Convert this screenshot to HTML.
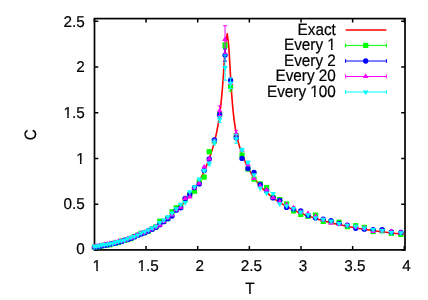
<!DOCTYPE html>
<html><head><meta charset="utf-8"><title>C vs T</title>
<style>
html,body{margin:0;padding:0;background:#fff;}
svg{display:block;}
svg{will-change:transform;transform:translateZ(0);}
text{text-rendering:geometricPrecision;font-kerning:none;font-family:"Liberation Sans",sans-serif;font-size:15.3px;fill:#000;stroke:#000;stroke-width:0.2px;}
</style></head>
<body>
<svg width="428" height="300" viewBox="0 0 428 300">
<rect width="428" height="300" fill="#fff"/>
<rect x="94.5" y="18.6" width="310.5" height="231.3" fill="none" stroke="#000" stroke-width="1.7"/><path d="M94.40,249.9 v-3.8 M94.40,18.6 v3.8 M146.05,249.9 v-3.8 M146.05,18.6 v3.8 M197.70,249.9 v-3.8 M197.70,18.6 v3.8 M249.35,249.9 v-3.8 M249.35,18.6 v3.8 M301.00,249.9 v-3.8 M301.00,18.6 v3.8 M352.65,249.9 v-3.8 M352.65,18.6 v3.8 M404.30,249.9 v-3.8 M404.30,18.6 v3.8 M94.5,250.00 h3.8 M405.0,250.00 h-3.8 M94.5,204.25 h3.8 M405.0,204.25 h-3.8 M94.5,158.50 h3.8 M405.0,158.50 h-3.8 M94.5,112.75 h3.8 M405.0,112.75 h-3.8 M94.5,67.00 h3.8 M405.0,67.00 h-3.8 M94.5,21.25 h3.8 M405.0,21.25 h-3.8" stroke="#000" stroke-width="1.5" fill="none"/>
<path d="M94.40,247.86 L96.47,247.58 L98.53,247.27 L100.60,246.94 L102.66,246.58 L104.73,246.19 L106.80,245.78 L108.86,245.34 L110.93,244.88 L112.99,244.38 L115.06,243.85 L117.13,243.30 L119.19,242.71 L121.26,242.09 L123.32,241.44 L125.39,240.76 L127.46,240.04 L129.52,239.29 L131.59,238.50 L133.65,237.68 L135.72,236.82 L137.79,235.93 L139.85,234.99 L141.92,234.02 L143.98,233.00 L146.05,231.95 L148.12,230.85 L150.18,229.71 L152.25,228.52 L154.31,227.28 L156.38,225.99 L158.45,224.66 L160.51,223.26 L162.58,221.82 L164.64,220.31 L166.71,218.74 L168.78,217.10 L170.84,215.40 L172.91,213.62 L174.97,211.76 L177.04,209.81 L179.11,207.78 L181.17,205.64 L183.24,203.40 L185.30,201.05 L187.37,198.56 L189.44,195.94 L191.50,193.16 L193.57,190.20 L195.63,187.05 L197.70,183.67 L198.73,181.89 L199.77,180.04 L200.80,178.12 L201.83,176.11 L202.86,174.02 L203.90,171.83 L204.93,169.54 L205.96,167.13 L207.00,164.59 L208.03,161.91 L209.07,159.07 L210.14,156.05 L211.22,152.83 L212.30,149.37 L213.39,145.64 L214.49,141.59 L215.57,137.15 L216.65,132.26 L217.72,126.78 L218.76,120.57 L218.76,120.57 L218.97,119.22 L219.17,117.83 L219.38,116.40 L219.59,114.92 L219.79,113.40 L220.00,111.82 L220.21,110.19 L220.41,108.49 L220.62,106.74 L220.83,104.92 L221.03,103.03 L221.24,101.06 L221.45,99.01 L221.65,96.89 L221.86,94.67 L222.07,92.36 L222.27,89.96 L222.48,87.46 L222.69,84.86 L222.89,82.16 L223.10,79.37 L223.31,76.47 L223.51,73.49 L223.72,70.44 L223.93,67.31 L224.13,64.14 L224.34,60.93 L224.55,57.73 L224.76,54.56 L224.98,51.45 L225.20,48.45 L225.43,45.61 L225.65,42.96 L227.26,33.74 L228.72,45.63 L228.93,48.71 L229.13,52.01 L229.34,55.46 L229.55,59.03 L229.75,62.66 L229.96,66.32 L230.17,69.97 L230.37,73.58 L230.58,77.12 L230.79,80.57 L230.99,83.92 L231.20,87.15 L231.41,90.26 L231.61,93.24 L231.82,96.09 L232.03,98.80 L232.23,101.39 L232.44,103.85 L232.65,106.19 L232.85,108.41 L233.06,110.53 L233.27,112.53 L233.47,114.44 L233.68,116.26 L233.89,117.99 L234.09,119.63 L234.30,121.20 L234.51,122.70 L234.71,124.13 L234.92,125.51 L235.12,126.82 L235.33,128.08 L235.54,129.30 L235.74,130.46 L235.95,131.59 L236.16,132.67 L236.36,133.72 L236.57,134.74 L236.78,135.72 L236.98,136.67 L237.19,137.59 L237.40,138.49 L237.60,139.36 L237.81,140.21 L238.02,141.04 L238.22,141.85 L238.43,142.64 L238.64,143.41 L238.84,144.16 L239.05,144.89 L239.26,145.61 L239.46,146.32 L239.67,147.01 L240.70,150.27 L241.74,153.26 L242.77,156.03 L243.80,158.60 L244.84,161.01 L245.86,163.27 L246.89,165.41 L247.91,167.42 L248.92,169.34 L249.93,171.15 L250.94,172.88 L251.94,174.54 L252.94,176.11 L253.94,177.62 L254.94,179.07 L255.93,180.46 L256.93,181.79 L257.92,183.08 L258.91,184.31 L259.91,185.51 L260.91,186.65 L261.90,187.76 L262.90,188.84 L263.91,189.87 L264.91,190.88 L265.92,191.85 L266.94,192.79 L267.96,193.70 L268.98,194.59 L270.01,195.45 L270.01,195.45 L272.08,197.10 L274.14,198.65 L276.21,200.13 L278.27,201.53 L280.34,202.86 L282.41,204.12 L284.47,205.33 L286.54,206.48 L288.60,207.58 L290.67,208.63 L292.74,209.64 L294.80,210.60 L296.87,211.53 L298.93,212.42 L301.00,213.27 L303.07,214.10 L305.13,214.89 L307.20,215.65 L309.26,216.38 L311.33,217.09 L313.40,217.77 L315.46,218.43 L317.53,219.07 L319.59,219.69 L321.66,220.28 L323.73,220.86 L325.79,221.42 L327.86,221.96 L329.92,222.48 L331.99,222.99 L334.06,223.48 L336.12,223.96 L338.19,224.43 L340.25,224.88 L342.32,225.32 L344.39,225.74 L346.45,226.16 L348.52,226.56 L350.58,226.95 L352.65,227.33 L354.72,227.70 L356.78,228.06 L358.85,228.42 L360.91,228.76 L362.98,229.09 L365.05,229.42 L367.11,229.73 L369.18,230.04 L371.24,230.35 L373.31,230.64 L375.38,230.93 L377.44,231.21 L379.51,231.49 L381.57,231.75 L383.64,232.02 L385.71,232.27 L387.77,232.52 L389.84,232.77 L391.90,233.01 L393.97,233.24 L396.04,233.47 L398.10,233.69 L400.17,233.91 L402.23,234.13 L404.30,234.34" fill="none" stroke="#ff0000" stroke-width="1.6" stroke-linejoin="round"/>
<g>
<rect x="91.80" y="244.48" width="5.20" height="5.20" fill="#00ff00"/><rect x="94.24" y="244.27" width="5.20" height="5.20" fill="#00ff00"/><rect x="96.74" y="243.76" width="5.20" height="5.20" fill="#00ff00"/><rect x="99.30" y="243.34" width="5.20" height="5.20" fill="#00ff00"/><rect x="101.92" y="242.65" width="5.20" height="5.20" fill="#00ff00"/><rect x="104.60" y="242.11" width="5.20" height="5.20" fill="#00ff00"/><rect x="107.34" y="242.17" width="5.20" height="5.20" fill="#00ff00"/><rect x="110.15" y="240.91" width="5.20" height="5.20" fill="#00ff00"/><rect x="113.02" y="240.47" width="5.20" height="5.20" fill="#00ff00"/><rect x="115.96" y="239.99" width="5.20" height="5.20" fill="#00ff00"/><rect x="118.98" y="238.46" width="5.20" height="5.20" fill="#00ff00"/><rect x="122.06" y="237.84" width="5.20" height="5.20" fill="#00ff00"/><rect x="125.22" y="236.90" width="5.20" height="5.20" fill="#00ff00"/><rect x="128.45" y="235.93" width="5.20" height="5.20" fill="#00ff00"/><rect x="131.75" y="234.01" width="5.20" height="5.20" fill="#00ff00"/><rect x="135.14" y="232.54" width="5.20" height="5.20" fill="#00ff00"/><rect x="138.60" y="230.73" width="5.20" height="5.20" fill="#00ff00"/><rect x="142.15" y="230.02" width="5.20" height="5.20" fill="#00ff00"/><rect x="145.78" y="228.51" width="5.20" height="5.20" fill="#00ff00"/><rect x="149.50" y="226.21" width="5.20" height="5.20" fill="#00ff00"/><rect x="153.30" y="224.30" width="5.20" height="5.20" fill="#00ff00"/><rect x="157.20" y="218.55" width="5.20" height="5.20" fill="#00ff00"/><rect x="161.18" y="218.74" width="5.20" height="5.20" fill="#00ff00"/><rect x="165.26" y="216.03" width="5.20" height="5.20" fill="#00ff00"/><rect x="169.44" y="209.17" width="5.20" height="5.20" fill="#00ff00"/><rect x="173.71" y="205.20" width="5.20" height="5.20" fill="#00ff00"/><rect x="178.09" y="204.35" width="5.20" height="5.20" fill="#00ff00"/><rect x="182.57" y="197.10" width="5.20" height="5.20" fill="#00ff00"/><rect x="187.16" y="192.32" width="5.20" height="5.20" fill="#00ff00"/><rect x="191.85" y="188.58" width="5.20" height="5.20" fill="#00ff00"/><rect x="196.66" y="179.36" width="5.20" height="5.20" fill="#00ff00"/><rect x="201.58" y="174.50" width="5.20" height="5.20" fill="#00ff00"/><rect x="206.61" y="149.10" width="5.20" height="5.20" fill="#00ff00"/><rect x="211.76" y="138.40" width="5.20" height="5.20" fill="#00ff00"/><rect x="217.04" y="111.40" width="5.20" height="5.20" fill="#00ff00"/><path d="M225.04,42.40 V48.40 M223.14,42.40 H226.94 M223.14,48.40 H226.94" stroke="#00ff00" stroke-width="1" fill="none"/><rect x="222.44" y="42.80" width="5.20" height="5.20" fill="#00ff00"/><path d="M230.57,82.20 V91.20 M228.67,82.20 H232.47 M228.67,91.20 H232.47" stroke="#00ff00" stroke-width="1" fill="none"/><rect x="227.97" y="84.10" width="5.20" height="5.20" fill="#00ff00"/><rect x="233.63" y="133.00" width="5.20" height="5.20" fill="#00ff00"/><rect x="239.42" y="152.50" width="5.20" height="5.20" fill="#00ff00"/><rect x="245.35" y="166.40" width="5.20" height="5.20" fill="#00ff00"/><rect x="251.42" y="176.58" width="5.20" height="5.20" fill="#00ff00"/><rect x="257.63" y="181.32" width="5.20" height="5.20" fill="#00ff00"/><rect x="263.99" y="185.00" width="5.20" height="5.20" fill="#00ff00"/><rect x="270.50" y="194.78" width="5.20" height="5.20" fill="#00ff00"/><rect x="277.16" y="196.99" width="5.20" height="5.20" fill="#00ff00"/><rect x="283.99" y="201.31" width="5.20" height="5.20" fill="#00ff00"/><rect x="290.97" y="208.33" width="5.20" height="5.20" fill="#00ff00"/><rect x="298.11" y="211.86" width="5.20" height="5.20" fill="#00ff00"/><rect x="305.43" y="213.55" width="5.20" height="5.20" fill="#00ff00"/><rect x="312.92" y="212.45" width="5.20" height="5.20" fill="#00ff00"/><rect x="320.59" y="218.81" width="5.20" height="5.20" fill="#00ff00"/><rect x="328.43" y="219.16" width="5.20" height="5.20" fill="#00ff00"/><rect x="336.47" y="219.62" width="5.20" height="5.20" fill="#00ff00"/><rect x="344.69" y="224.02" width="5.20" height="5.20" fill="#00ff00"/><rect x="353.10" y="223.08" width="5.20" height="5.20" fill="#00ff00"/><rect x="361.72" y="224.80" width="5.20" height="5.20" fill="#00ff00"/><rect x="370.54" y="228.92" width="5.20" height="5.20" fill="#00ff00"/><rect x="379.57" y="228.23" width="5.20" height="5.20" fill="#00ff00"/><rect x="388.81" y="230.65" width="5.20" height="5.20" fill="#00ff00"/><rect x="398.27" y="231.78" width="5.20" height="5.20" fill="#00ff00"/><circle cx="94.40" cy="247.07" r="2.65" fill="#0000ff"/><circle cx="96.84" cy="246.93" r="2.65" fill="#0000ff"/><circle cx="99.34" cy="246.34" r="2.65" fill="#0000ff"/><circle cx="101.90" cy="245.87" r="2.65" fill="#0000ff"/><circle cx="104.52" cy="245.15" r="2.65" fill="#0000ff"/><circle cx="107.20" cy="244.93" r="2.65" fill="#0000ff"/><circle cx="109.94" cy="244.14" r="2.65" fill="#0000ff"/><circle cx="112.75" cy="243.53" r="2.65" fill="#0000ff"/><circle cx="115.62" cy="243.08" r="2.65" fill="#0000ff"/><circle cx="118.56" cy="242.11" r="2.65" fill="#0000ff"/><circle cx="121.58" cy="241.48" r="2.65" fill="#0000ff"/><circle cx="124.66" cy="240.08" r="2.65" fill="#0000ff"/><circle cx="127.82" cy="239.56" r="2.65" fill="#0000ff"/><circle cx="131.05" cy="238.37" r="2.65" fill="#0000ff"/><circle cx="134.35" cy="236.92" r="2.65" fill="#0000ff"/><circle cx="137.74" cy="235.33" r="2.65" fill="#0000ff"/><circle cx="141.20" cy="234.07" r="2.65" fill="#0000ff"/><circle cx="144.75" cy="232.82" r="2.65" fill="#0000ff"/><circle cx="148.38" cy="231.01" r="2.65" fill="#0000ff"/><circle cx="152.10" cy="229.31" r="2.65" fill="#0000ff"/><circle cx="155.90" cy="227.30" r="2.65" fill="#0000ff"/><circle cx="159.80" cy="224.75" r="2.65" fill="#0000ff"/><circle cx="163.78" cy="221.64" r="2.65" fill="#0000ff"/><circle cx="167.86" cy="218.63" r="2.65" fill="#0000ff"/><circle cx="172.04" cy="216.07" r="2.65" fill="#0000ff"/><circle cx="176.31" cy="210.20" r="2.65" fill="#0000ff"/><circle cx="180.69" cy="207.85" r="2.65" fill="#0000ff"/><circle cx="185.17" cy="198.50" r="2.65" fill="#0000ff"/><circle cx="189.76" cy="194.42" r="2.65" fill="#0000ff"/><circle cx="194.45" cy="187.68" r="2.65" fill="#0000ff"/><circle cx="199.26" cy="183.96" r="2.65" fill="#0000ff"/><circle cx="204.18" cy="170.50" r="2.65" fill="#0000ff"/><circle cx="209.21" cy="159.00" r="2.65" fill="#0000ff"/><circle cx="214.36" cy="139.90" r="2.65" fill="#0000ff"/><path d="M219.64,112.80 V116.80 M217.74,112.80 H221.54 M217.74,116.80 H221.54" stroke="#0000ff" stroke-width="1" fill="none"/><circle cx="219.64" cy="114.80" r="2.65" fill="#0000ff"/><path d="M225.04,49.10 V61.10 M223.14,49.10 H226.94 M223.14,61.10 H226.94" stroke="#0000ff" stroke-width="1" fill="none"/><circle cx="225.04" cy="55.10" r="2.65" fill="#0000ff"/><path d="M230.57,78.20 V82.60 M228.67,78.20 H232.47 M228.67,82.60 H232.47" stroke="#0000ff" stroke-width="1" fill="none"/><circle cx="230.57" cy="80.40" r="2.65" fill="#0000ff"/><path d="M236.23,136.20 V139.20 M234.33,136.20 H238.13 M234.33,139.20 H238.13" stroke="#0000ff" stroke-width="1" fill="none"/><circle cx="236.23" cy="137.70" r="2.65" fill="#0000ff"/><circle cx="242.02" cy="158.40" r="2.65" fill="#0000ff"/><circle cx="247.95" cy="168.60" r="2.65" fill="#0000ff"/><circle cx="254.02" cy="172.38" r="2.65" fill="#0000ff"/><circle cx="260.23" cy="184.72" r="2.65" fill="#0000ff"/><circle cx="266.59" cy="190.90" r="2.65" fill="#0000ff"/><circle cx="273.10" cy="197.88" r="2.65" fill="#0000ff"/><circle cx="279.76" cy="200.29" r="2.65" fill="#0000ff"/><circle cx="286.59" cy="207.41" r="2.65" fill="#0000ff"/><circle cx="293.57" cy="208.93" r="2.65" fill="#0000ff"/><circle cx="300.71" cy="210.96" r="2.65" fill="#0000ff"/><circle cx="308.03" cy="215.55" r="2.65" fill="#0000ff"/><circle cx="315.52" cy="217.95" r="2.65" fill="#0000ff"/><circle cx="323.19" cy="219.11" r="2.65" fill="#0000ff"/><circle cx="331.03" cy="220.66" r="2.65" fill="#0000ff"/><circle cx="339.07" cy="223.62" r="2.65" fill="#0000ff"/><circle cx="347.29" cy="225.12" r="2.65" fill="#0000ff"/><circle cx="355.70" cy="228.28" r="2.65" fill="#0000ff"/><circle cx="364.32" cy="229.20" r="2.65" fill="#0000ff"/><circle cx="373.14" cy="229.62" r="2.65" fill="#0000ff"/><circle cx="382.17" cy="229.73" r="2.65" fill="#0000ff"/><circle cx="391.41" cy="231.95" r="2.65" fill="#0000ff"/><circle cx="400.87" cy="232.38" r="2.65" fill="#0000ff"/><path d="M94.40,243.46 L97.20,248.21 L91.60,248.21Z" fill="#ff00ff"/><path d="M96.84,242.91 L99.64,247.66 L94.04,247.66Z" fill="#ff00ff"/><path d="M99.34,242.56 L102.14,247.31 L96.54,247.31Z" fill="#ff00ff"/><path d="M101.90,242.19 L104.70,246.94 L99.10,246.94Z" fill="#ff00ff"/><path d="M104.52,241.23 L107.32,245.98 L101.72,245.98Z" fill="#ff00ff"/><path d="M107.20,241.07 L110.00,245.82 L104.40,245.82Z" fill="#ff00ff"/><path d="M109.94,240.60 L112.74,245.35 L107.14,245.35Z" fill="#ff00ff"/><path d="M112.75,240.14 L115.55,244.89 L109.95,244.89Z" fill="#ff00ff"/><path d="M115.62,239.18 L118.42,243.93 L112.82,243.93Z" fill="#ff00ff"/><path d="M118.56,238.28 L121.36,243.03 L115.76,243.03Z" fill="#ff00ff"/><path d="M121.58,237.69 L124.38,242.44 L118.78,242.44Z" fill="#ff00ff"/><path d="M124.66,236.99 L127.46,241.74 L121.86,241.74Z" fill="#ff00ff"/><path d="M127.82,235.55 L130.62,240.30 L125.02,240.30Z" fill="#ff00ff"/><path d="M131.05,234.65 L133.85,239.40 L128.25,239.40Z" fill="#ff00ff"/><path d="M134.35,233.22 L137.15,237.97 L131.55,237.97Z" fill="#ff00ff"/><path d="M137.74,231.55 L140.54,236.30 L134.94,236.30Z" fill="#ff00ff"/><path d="M141.20,229.95 L144.00,234.70 L138.40,234.70Z" fill="#ff00ff"/><path d="M144.75,229.12 L147.55,233.87 L141.95,233.87Z" fill="#ff00ff"/><path d="M148.38,227.31 L151.18,232.06 L145.58,232.06Z" fill="#ff00ff"/><path d="M152.10,225.61 L154.90,230.36 L149.30,230.36Z" fill="#ff00ff"/><path d="M155.90,223.60 L158.70,228.35 L153.10,228.35Z" fill="#ff00ff"/><path d="M159.80,221.75 L162.60,226.50 L157.00,226.50Z" fill="#ff00ff"/><path d="M163.78,218.14 L166.58,222.89 L160.98,222.89Z" fill="#ff00ff"/><path d="M167.86,214.83 L170.66,219.58 L165.06,219.58Z" fill="#ff00ff"/><path d="M172.04,211.87 L174.84,216.62 L169.24,216.62Z" fill="#ff00ff"/><path d="M176.31,206.50 L179.11,211.25 L173.51,211.25Z" fill="#ff00ff"/><path d="M180.69,203.95 L183.49,208.70 L177.89,208.70Z" fill="#ff00ff"/><path d="M185.17,195.20 L187.97,199.95 L182.37,199.95Z" fill="#ff00ff"/><path d="M189.76,193.72 L192.56,198.47 L186.96,198.47Z" fill="#ff00ff"/><path d="M194.45,184.48 L197.25,189.23 L191.65,189.23Z" fill="#ff00ff"/><path d="M199.26,179.96 L202.06,184.71 L196.46,184.71Z" fill="#ff00ff"/><path d="M204.18,163.70 L206.98,168.45 L201.38,168.45Z" fill="#ff00ff"/><path d="M209.21,155.80 L212.01,160.55 L206.41,160.55Z" fill="#ff00ff"/><path d="M214.36,138.00 L217.16,142.75 L211.56,142.75Z" fill="#ff00ff"/><path d="M219.64,105.80 V115.40 M217.74,105.80 H221.54 M217.74,115.40 H221.54" stroke="#ff00ff" stroke-width="1" fill="none"/><path d="M219.64,107.40 L222.44,112.15 L216.84,112.15Z" fill="#ff00ff"/><path d="M225.04,25.70 V53.30 M223.14,25.70 H226.94 M223.14,53.30 H226.94" stroke="#ff00ff" stroke-width="1" fill="none"/><path d="M225.04,36.30 L227.84,41.05 L222.24,41.05Z" fill="#ff00ff"/><path d="M230.57,80.30 L233.37,85.05 L227.77,85.05Z" fill="#ff00ff"/><path d="M236.23,130.30 V137.10 M234.33,130.30 H238.13 M234.33,137.10 H238.13" stroke="#ff00ff" stroke-width="1" fill="none"/><path d="M236.23,130.50 L239.03,135.25 L233.43,135.25Z" fill="#ff00ff"/><path d="M242.02,147.20 L244.82,151.95 L239.22,151.95Z" fill="#ff00ff"/><path d="M247.95,161.60 L250.75,166.35 L245.15,166.35Z" fill="#ff00ff"/><path d="M254.02,175.28 L256.82,180.03 L251.22,180.03Z" fill="#ff00ff"/><path d="M260.23,183.12 L263.03,187.87 L257.43,187.87Z" fill="#ff00ff"/><path d="M266.59,186.70 L269.39,191.45 L263.79,191.45Z" fill="#ff00ff"/><path d="M273.10,194.48 L275.90,199.23 L270.30,199.23Z" fill="#ff00ff"/><path d="M279.76,198.69 L282.56,203.44 L276.96,203.44Z" fill="#ff00ff"/><path d="M286.59,201.51 L289.39,206.26 L283.79,206.26Z" fill="#ff00ff"/><path d="M293.57,204.63 L296.37,209.38 L290.77,209.38Z" fill="#ff00ff"/><path d="M300.71,208.96 L303.51,213.71 L297.91,213.71Z" fill="#ff00ff"/><path d="M308.03,210.25 L310.83,215.00 L305.23,215.00Z" fill="#ff00ff"/><path d="M315.52,213.25 L318.32,218.00 L312.72,218.00Z" fill="#ff00ff"/><path d="M323.19,216.51 L325.99,221.26 L320.39,221.26Z" fill="#ff00ff"/><path d="M331.03,219.96 L333.83,224.71 L328.23,224.71Z" fill="#ff00ff"/><path d="M339.07,221.22 L341.87,225.97 L336.27,225.97Z" fill="#ff00ff"/><path d="M347.29,222.12 L350.09,226.87 L344.49,226.87Z" fill="#ff00ff"/><path d="M355.70,223.68 L358.50,228.43 L352.90,228.43Z" fill="#ff00ff"/><path d="M364.32,225.10 L367.12,229.85 L361.52,229.85Z" fill="#ff00ff"/><path d="M373.14,228.22 L375.94,232.97 L370.34,232.97Z" fill="#ff00ff"/><path d="M382.17,227.63 L384.97,232.38 L379.37,232.38Z" fill="#ff00ff"/><path d="M391.41,228.25 L394.21,233.00 L388.61,233.00Z" fill="#ff00ff"/><path d="M400.87,229.38 L403.67,234.13 L398.07,234.13Z" fill="#ff00ff"/><path d="M94.40,249.71 L97.20,244.96 L91.60,244.96Z" fill="#00ffff"/><path d="M96.84,249.17 L99.64,244.42 L94.04,244.42Z" fill="#00ffff"/><path d="M99.34,249.12 L102.14,244.37 L96.54,244.37Z" fill="#00ffff"/><path d="M101.90,248.08 L104.70,243.33 L99.10,243.33Z" fill="#00ffff"/><path d="M104.52,247.64 L107.32,242.89 L101.72,242.89Z" fill="#00ffff"/><path d="M107.20,247.54 L110.00,242.79 L104.40,242.79Z" fill="#00ffff"/><path d="M109.94,246.99 L112.74,242.24 L107.14,242.24Z" fill="#00ffff"/><path d="M112.75,246.41 L115.55,241.66 L109.95,241.66Z" fill="#00ffff"/><path d="M115.62,245.54 L118.42,240.79 L112.82,240.79Z" fill="#00ffff"/><path d="M118.56,244.78 L121.36,240.03 L115.76,240.03Z" fill="#00ffff"/><path d="M121.58,243.88 L124.38,239.13 L118.78,239.13Z" fill="#00ffff"/><path d="M124.66,243.14 L127.46,238.39 L121.86,238.39Z" fill="#00ffff"/><path d="M127.82,242.09 L130.62,237.34 L125.02,237.34Z" fill="#00ffff"/><path d="M131.05,240.60 L133.85,235.85 L128.25,235.85Z" fill="#00ffff"/><path d="M134.35,239.83 L137.15,235.08 L131.55,235.08Z" fill="#00ffff"/><path d="M137.74,238.20 L140.54,233.45 L134.94,233.45Z" fill="#00ffff"/><path d="M141.20,236.27 L144.00,231.52 L138.40,231.52Z" fill="#00ffff"/><path d="M144.75,235.02 L147.55,230.27 L141.95,230.27Z" fill="#00ffff"/><path d="M148.38,233.31 L151.18,228.56 L145.58,228.56Z" fill="#00ffff"/><path d="M152.10,231.31 L154.90,226.56 L149.30,226.56Z" fill="#00ffff"/><path d="M155.90,229.40 L158.70,224.65 L153.10,224.65Z" fill="#00ffff"/><path d="M159.80,225.65 L162.60,220.90 L157.00,220.90Z" fill="#00ffff"/><path d="M163.78,223.34 L166.58,218.59 L160.98,218.59Z" fill="#00ffff"/><path d="M167.86,220.03 L170.66,215.28 L165.06,215.28Z" fill="#00ffff"/><path d="M172.04,216.27 L174.84,211.52 L169.24,211.52Z" fill="#00ffff"/><path d="M176.31,211.90 L179.11,207.15 L173.51,207.15Z" fill="#00ffff"/><path d="M180.69,207.55 L183.49,202.80 L177.89,202.80Z" fill="#00ffff"/><path d="M185.17,205.70 L187.97,200.95 L182.37,200.95Z" fill="#00ffff"/><path d="M189.76,195.12 L192.56,190.37 L186.96,190.37Z" fill="#00ffff"/><path d="M194.45,189.88 L197.25,185.13 L191.65,185.13Z" fill="#00ffff"/><path d="M199.26,182.16 L202.06,177.41 L196.46,177.41Z" fill="#00ffff"/><path d="M204.18,169.30 V171.70 M202.28,169.30 H206.08 M202.28,171.70 H206.08" stroke="#00ffff" stroke-width="1" fill="none"/><path d="M204.18,173.70 L206.98,168.95 L201.38,168.95Z" fill="#00ffff"/><path d="M209.21,162.00 V165.20 M207.31,162.00 H211.11 M207.31,165.20 H211.11" stroke="#00ffff" stroke-width="1" fill="none"/><path d="M209.21,166.80 L212.01,162.05 L206.41,162.05Z" fill="#00ffff"/><path d="M214.36,139.90 V144.90 M212.46,139.90 H216.26 M212.46,144.90 H216.26" stroke="#00ffff" stroke-width="1" fill="none"/><path d="M214.36,145.60 L217.16,140.85 L211.56,140.85Z" fill="#00ffff"/><path d="M219.64,116.60 V122.60 M217.74,116.60 H221.54 M217.74,122.60 H221.54" stroke="#00ffff" stroke-width="1" fill="none"/><path d="M219.64,122.80 L222.44,118.05 L216.84,118.05Z" fill="#00ffff"/><path d="M225.04,55.00 V80.20 M223.14,55.00 H226.94 M223.14,80.20 H226.94" stroke="#00ffff" stroke-width="1" fill="none"/><path d="M225.04,70.80 L227.84,66.05 L222.24,66.05Z" fill="#00ffff"/><path d="M230.57,77.90 V88.50 M228.67,77.90 H232.47 M228.67,88.50 H232.47" stroke="#00ffff" stroke-width="1" fill="none"/><path d="M230.57,86.40 L233.37,81.65 L227.77,81.65Z" fill="#00ffff"/><path d="M236.23,134.30 V143.30 M234.33,134.30 H238.13 M234.33,143.30 H238.13" stroke="#00ffff" stroke-width="1" fill="none"/><path d="M236.23,142.00 L239.03,137.25 L233.43,137.25Z" fill="#00ffff"/><path d="M242.02,148.30 V151.30 M240.12,148.30 H243.92 M240.12,151.30 H243.92" stroke="#00ffff" stroke-width="1" fill="none"/><path d="M242.02,153.00 L244.82,148.25 L239.22,148.25Z" fill="#00ffff"/><path d="M247.95,161.20 V163.60 M246.05,161.20 H249.85 M246.05,163.60 H249.85" stroke="#00ffff" stroke-width="1" fill="none"/><path d="M247.95,165.60 L250.75,160.85 L245.15,160.85Z" fill="#00ffff"/><path d="M254.02,178.08 L256.82,173.33 L251.22,173.33Z" fill="#00ffff"/><path d="M260.23,191.22 L263.03,186.47 L257.43,186.47Z" fill="#00ffff"/><path d="M266.59,196.20 L269.39,191.45 L263.79,191.45Z" fill="#00ffff"/><path d="M273.10,196.78 L275.90,192.03 L270.30,192.03Z" fill="#00ffff"/><path d="M279.76,206.89 L282.56,202.14 L276.96,202.14Z" fill="#00ffff"/><path d="M286.59,208.91 L289.39,204.16 L283.79,204.16Z" fill="#00ffff"/><path d="M293.57,211.83 L296.37,207.08 L290.77,207.08Z" fill="#00ffff"/><path d="M300.71,215.36 L303.51,210.61 L297.91,210.61Z" fill="#00ffff"/><path d="M308.03,217.95 L310.83,213.20 L305.23,213.20Z" fill="#00ffff"/><path d="M315.52,220.95 L318.32,216.20 L312.72,216.20Z" fill="#00ffff"/><path d="M323.19,222.61 L325.99,217.86 L320.39,217.86Z" fill="#00ffff"/><path d="M331.03,224.26 L333.83,219.51 L328.23,219.51Z" fill="#00ffff"/><path d="M339.07,226.82 L341.87,222.07 L336.27,222.07Z" fill="#00ffff"/><path d="M347.29,228.42 L350.09,223.67 L344.49,223.67Z" fill="#00ffff"/><path d="M355.70,229.58 L358.50,224.83 L352.90,224.83Z" fill="#00ffff"/><path d="M364.32,231.30 L367.12,226.55 L361.52,226.55Z" fill="#00ffff"/><path d="M373.14,232.82 L375.94,228.07 L370.34,228.07Z" fill="#00ffff"/><path d="M382.17,233.63 L384.97,228.88 L379.37,228.88Z" fill="#00ffff"/><path d="M391.41,235.65 L394.21,230.90 L388.61,230.90Z" fill="#00ffff"/><path d="M400.87,235.98 L403.67,231.23 L398.07,231.23Z" fill="#00ffff"/>
</g>
<g>
<text transform="translate(96.80,271.20) scale(1,1.03)" text-anchor="middle">1</text><text transform="translate(148.15,271.30) scale(1,1.03)" text-anchor="middle">1.5</text><text transform="translate(199.80,271.30) scale(1,1.03)" text-anchor="middle">2</text><text transform="translate(251.45,271.30) scale(1,1.03)" text-anchor="middle">2.5</text><text transform="translate(303.10,271.30) scale(1,1.03)" text-anchor="middle">3</text><text transform="translate(354.75,271.30) scale(1,1.03)" text-anchor="middle">3.5</text><text transform="translate(406.40,271.30) scale(1,1.03)" text-anchor="middle">4</text><text transform="translate(84.70,254.20) scale(1,1.03)" text-anchor="end">0</text><text transform="translate(84.70,209.35) scale(1,1.03)" text-anchor="end">0.5</text><text transform="translate(84.70,163.80) scale(1,1.03)" text-anchor="end">1</text><text transform="translate(84.70,117.85) scale(1,1.03)" text-anchor="end">1.5</text><text transform="translate(84.70,72.30) scale(1,1.03)" text-anchor="end">2</text><text transform="translate(84.70,27.35) scale(1,1.03)" text-anchor="end">2.5</text><text transform="translate(249.80,294.30) scale(1,1.08)" text-anchor="middle">T</text><text transform="translate(35.75,134.70) rotate(-90) scale(1,1.08)" text-anchor="middle">C</text>
<text transform="translate(335.80,34.60) scale(1,1.08)" text-anchor="end">Exact</text><text transform="translate(335.80,50.00) scale(1,1.08)" text-anchor="end">Every 1</text><text transform="translate(335.80,65.60) scale(1,1.08)" text-anchor="end">Every 2</text><text transform="translate(335.80,81.10) scale(1,1.08)" text-anchor="end">Every 20</text><text transform="translate(335.80,96.60) scale(1,1.08)" text-anchor="end">Every 100</text><path d="M345.6,30.0 H386.4" stroke="#ff0000" stroke-width="1.7"/><path d="M345.6,45.4 H386.4 M345.6,43.5 v3.8 M386.4,43.5 v3.8" stroke="#00ff00" stroke-width="1" fill="none"/><rect x="363.10" y="42.80" width="5.20" height="5.20" fill="#00ff00"/><path d="M345.6,61.0 H386.4 M345.6,59.1 v3.8 M386.4,59.1 v3.8" stroke="#0000ff" stroke-width="1" fill="none"/><circle cx="365.70" cy="61.00" r="2.65" fill="#0000ff"/><path d="M345.6,76.5 H386.4 M345.6,74.6 v3.8 M386.4,74.6 v3.8" stroke="#ff00ff" stroke-width="1" fill="none"/><path d="M365.70,73.30 L368.50,78.05 L362.90,78.05Z" fill="#ff00ff"/><path d="M345.6,92.0 H386.4 M345.6,90.1 v3.8 M386.4,90.1 v3.8" stroke="#00ffff" stroke-width="1" fill="none"/><path d="M365.70,95.20 L368.50,90.45 L362.90,90.45Z" fill="#00ffff"/>
</g>
<g><rect x="92.35" y="268.52" width="3.93" height="3.98" fill="#fff"/><rect x="97.87" y="268.52" width="3.48" height="3.98" fill="#fff"/><rect x="137.32" y="268.62" width="3.93" height="3.98" fill="#fff"/><rect x="142.84" y="268.62" width="3.48" height="3.98" fill="#fff"/><rect x="75.99" y="161.12" width="3.93" height="3.98" fill="#fff"/><rect x="81.51" y="161.12" width="3.48" height="3.98" fill="#fff"/><rect x="63.23" y="115.17" width="3.93" height="3.98" fill="#fff"/><rect x="68.75" y="115.17" width="3.48" height="3.98" fill="#fff"/><rect x="327.09" y="47.27" width="3.93" height="4.03" fill="#fff"/><rect x="332.61" y="47.27" width="3.48" height="4.03" fill="#fff"/><rect x="310.07" y="93.87" width="3.93" height="4.03" fill="#fff"/><rect x="315.59" y="93.87" width="3.48" height="4.03" fill="#fff"/></g>
</svg>
</body></html>
